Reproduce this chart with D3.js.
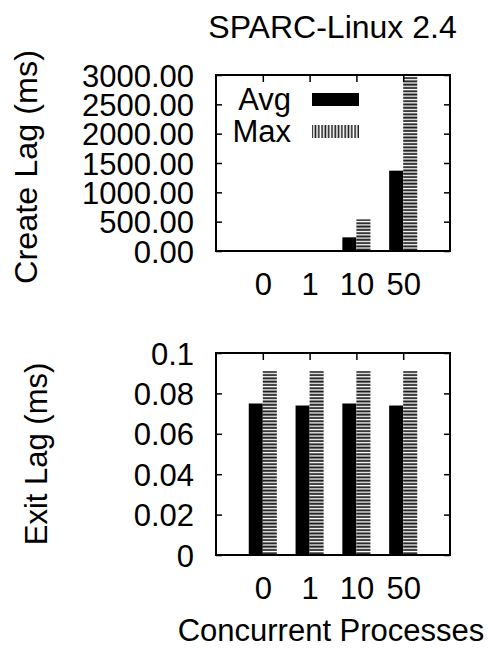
<!DOCTYPE html>
<html>
<head>
<meta charset="utf-8">
<script src="https://cdn.jsdelivr.net/npm/d3@7"></script>
<style>
  html, body { margin: 0; padding: 0; background: #fff; }
  svg { display: block; }
  text { font-family: "Liberation Sans", Arial, sans-serif; fill: #000; }
</style>
</head>
<body>
<svg id="chart" width="493" height="648"></svg>
<script>
// ---- data ----
const categories = ["0", "1", "10", "50"];
const seriesNames = ["Avg", "Max"];
const createAvg = [0.08, 0.09, 233, 1369];
const createMax = [0.09, 0.09, 540, 2970];
const exitAvg = [0.075, 0.074, 0.075, 0.074];
const exitMax = [0.091, 0.091, 0.091, 0.091];
const createTicks = [0, 500, 1000, 1500, 2000, 2500, 3000];
const exitTicks = [0, 0.02, 0.04, 0.06, 0.08, 0.1];
const exitTickLabels = ["0", "0.02", "0.04", "0.06", "0.08", "0.1"];
const title = "SPARC-Linux 2.4";
const xTitle = "Concurrent Processes";
const createTitle = "Create Lag (ms)";
const exitTitle = "Exit Lag (ms)";

const svg = d3.select("#chart");
svg.append("rect").attr("width", 493).attr("height", 648).attr("fill", "#fff");

const defs = svg.append("defs");
const ph = defs.append("pattern").attr("id", "hstripe").attr("patternUnits", "userSpaceOnUse")
  .attr("width", 10).attr("height", 3.3);
ph.append("rect").attr("width", 10).attr("height", 3.3).attr("fill", "#fff");
ph.append("rect").attr("y", 1.2).attr("width", 10).attr("height", 1.9).attr("fill", "#1a1a1a");
const pv = defs.append("pattern").attr("id", "vstripe").attr("patternUnits", "userSpaceOnUse")
  .attr("width", 3.3).attr("height", 10);
pv.append("rect").attr("width", 3.3).attr("height", 10).attr("fill", "#fff");
pv.append("rect").attr("x", 1.2).attr("width", 1.6).attr("height", 10).attr("fill", "#1a1a1a");

const FS = 31;
const left = 216, right = 450;
const x = d3.scaleLinear().domain([-1, categories.length]).range([left, right]);
const barW = x(0.3) - x(0);

function panel(opts) {
  const y = d3.scaleLinear().domain(opts.domain).range([opts.bottom, opts.top]);
  const g = svg.append("g");

  // bars
  opts.avg.forEach((v, i) => {
    g.append("rect").attr("x", x(i) - barW).attr("y", y(v))
      .attr("width", barW).attr("height", y(0) - y(v)).attr("fill", "#000");
  });
  opts.max.forEach((v, i) => {
    g.append("rect").attr("x", x(i)).attr("y", y(v))
      .attr("width", barW).attr("height", y(0) - y(v)).attr("fill", "url(#hstripe)");
  });

  // inward ticks
  const tl = g.append("g").attr("transform", `translate(${left},0)`)
    .call(d3.axisLeft(y).tickValues(opts.ticks).tickSize(-6).tickFormat(""));
  const tr = g.append("g").attr("transform", `translate(${right},0)`)
    .call(d3.axisRight(y).tickValues(opts.ticks).tickSize(-6).tickFormat(""));
  const tt = g.append("g").attr("transform", `translate(0,${opts.top})`)
    .call(d3.axisTop(x).tickValues(d3.range(categories.length)).tickSize(-7).tickFormat(""));
  [tl, tr, tt].forEach(a => {
    a.select(".domain").remove();
    a.selectAll("line").attr("stroke", "#000").attr("stroke-width", 1.5);
  });

  // frame
  g.append("rect").attr("x", left).attr("y", opts.top)
    .attr("width", right - left).attr("height", opts.bottom - opts.top)
    .attr("fill", "none").attr("stroke", "#000").attr("stroke-width", 2);

  // y labels
  const ya = g.append("g").attr("transform", `translate(${left},0)`)
    .call(d3.axisLeft(y).tickValues(opts.ticks).tickSize(0).tickPadding(22).tickFormat(opts.fmt));
  ya.select(".domain").remove();
  ya.selectAll("text").attr("font-size", FS).attr("font-family", "Liberation Sans, Arial, sans-serif")
    .attr("dy", "0.36em").attr("fill", "#000");

  // x labels
  const xa = g.append("g").attr("transform", `translate(0,${opts.bottom})`)
    .call(d3.axisBottom(x).tickValues(d3.range(categories.length)).tickSize(0).tickPadding(22)
      .tickFormat(i => categories[i]));
  xa.select(".domain").remove();
  xa.selectAll("text").attr("font-size", FS).attr("font-family", "Liberation Sans, Arial, sans-serif")
    .attr("fill", "#000");

  // y title
  const t = g.append("text").attr("transform", `translate(${opts.titleX},${(opts.top + opts.bottom) / 2 + opts.titleDY}) rotate(-90)`)
    .attr("text-anchor", "middle").attr("font-size", FS).text(opts.title);
  if (opts.titleLen) t.attr("textLength", opts.titleLen).attr("lengthAdjust", "spacingAndGlyphs");
  return { y, g };
}

const p1 = panel({
  domain: [0, 3000], top: 75, bottom: 251, avg: createAvg, max: createMax,
  ticks: createTicks, fmt: d3.format(".2f"), title: createTitle, titleX: 37, titleDY: 4, titleLen: 234
});
panel({
  domain: [0, 0.1], top: 353, bottom: 555, avg: exitAvg, max: exitMax,
  ticks: exitTicks, fmt: (d, i) => exitTickLabels[i], title: exitTitle, titleX: 47, titleDY: 0
});

// legend
const legend = p1.g.append("g");
const legendFills = ["#000", "url(#vstripe)"];
seriesNames.forEach((s, i) => {
  const by = 110 + i * 32;
  legend.append("text").attr("x", 291).attr("y", by).attr("text-anchor", "end")
    .attr("font-size", FS).text(s);
  legend.append("rect").attr("x", 312).attr("y", by - 17).attr("width", 47).attr("height", 13)
    .attr("fill", legendFills[i]);
});

// titles
svg.append("text").attr("x", 332.5).attr("y", 38).attr("text-anchor", "middle")
  .attr("font-size", 32).text(title);
svg.append("text").attr("x", 331).attr("y", 641).attr("text-anchor", "middle")
  .attr("font-size", FS).text(xTitle);
</script>
</body>
</html>
